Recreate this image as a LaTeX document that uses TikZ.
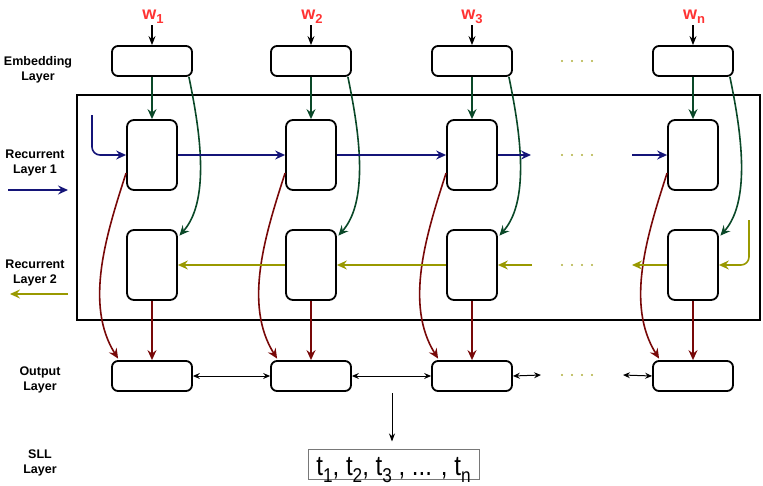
\documentclass[tikz,border=0pt]{standalone}
\usepackage{fontspec}
\setmainfont{Liberation Sans}
\newfontfamily\sllfont[FakeStretch=0.86]{Liberation Sans}
\usetikzlibrary{arrows.meta,calc}
\definecolor{navyc}{RGB}{20,20,120}
\definecolor{greenc}{RGB}{10,72,40}
\definecolor{redc}{RGB}{120,8,8}
\definecolor{olivec}{RGB}{153,153,0}
\definecolor{dotc}{RGB}{175,175,60}
\definecolor{wred}{RGB}{255,51,51}
\definecolor{grayc}{RGB}{120,120,120}
\newcommand\wsub[1]{\raisebox{-3.5pt}{\fontsize{13}{13}\selectfont #1}}
\newcommand\tsub[1]{\raisebox{-7pt}{\fontsize{20}{20}\selectfont #1}}
\begin{document}
\begin{tikzpicture}[x=1pt,y=-1pt,
  box/.style={draw, line width=1.8pt, rounded corners=6pt, minimum width=80pt, minimum height=30pt, inner sep=0pt},
  cell/.style={draw, line width=1.8pt, rounded corners=7pt, minimum width=50pt, minimum height=70pt, inner sep=0pt},
  lbl/.style={font=\bfseries\fontsize{12.5}{14.5}\selectfont, align=center},
  wlbl/.style={font=\bfseries\fontsize{18}{18}\selectfont, text=wred, anchor=base, inner sep=0pt},
  arr/.style={line width=1.6pt, -{Stealth[length=10pt,width=9pt,inset=3.5pt]}},
  garr/.style={arr, draw=greenc},
  rarr/.style={arr, draw=redc},
  barr/.style={arr, draw=navyc},
  oarr/.style={arr, draw=olivec},
  karr/.style={line width=1pt, -{Stealth[length=8pt,width=6pt,inset=2.5pt]}},
  warr/.style={line width=1.4pt, -{Stealth[length=9pt,width=7pt,inset=3pt]}},
  dbl/.style={line width=1pt, {Stealth[length=7pt,width=6pt,inset=2.5pt]}-{Stealth[length=7pt,width=6pt,inset=2.5pt]}},
]
\useasboundingbox (0,0) rectangle (763,485);

% frame
\node[draw, line width=1.8pt, minimum width=683pt, minimum height=225pt, inner sep=0pt] (frame) at (418.5,207.5) {};

% left labels
\node[lbl] (lemb) at (38,70) {Embedding\\Layer};
\node[lbl] (lrec1) at (35,163) {Recurrent\\Layer 1};
\node[lbl] (lrec2) at (35,273) {Recurrent\\Layer 2};
\node[lbl] (lout) at (40,380) {Output\\Layer};
\node[lbl] (lsll) at (40,463) {SLL\\Layer};
\coordinate (la1) at (8,190);
\coordinate (lb1) at (68,190);
\coordinate (la2) at (68,294);
\coordinate (lb2) at (10,294);
\draw[barr] (la1) -- (lb1);
\draw[oarr] (la2) -- (lb2);

% boxes
\foreach \n/\x in {1/152, 2/311, 3/472, n/693} {
  \node[box] (e\n) at (\x,61) {};
  \node[cell] (r\n) at (\x,155) {};
  \node[cell] (q\n) at (\x,265) {};
  \node[box] (o\n) at (\x,376) {};
  \coordinate (wa\n) at (\x,25);
  \draw[warr] (wa\n) -- (e\n.north);
  \draw[garr] (e\n.south) -- (r\n.north);
  \draw[rarr] (q\n.south) -- (o\n.north);
  \draw[garr] ($(e\n.south east)+(-4,0)$) .. controls +(9,44) and +(33,-37) .. ($(q\n.north east)+(1.5,6.5)$);
  \draw[rarr] ($(r\n.west)+(0,18)$) .. controls +(-20,62) and +(-34,-54) .. ($(o\n.north west)+(7,-1.5)$);
}

% word labels
\node[wlbl] (w1) at (153,19.5) {w\wsub{1}};
\node[wlbl] (w2) at (312,19.5) {w\wsub{2}};
\node[wlbl] (w3) at (472,19.5) {w\wsub{3}};
\node[wlbl] (wn) at (694,19.5) {w\wsub{n}};

% recurrent layer 1 (forward)
\coordinate (bin) at (92,115);
\coordinate (bend3) at (531,155);
\coordinate (bstartn) at (632,155);
\draw[barr, rounded corners=8pt] (bin) |- (r1.west);
\draw[barr] (r1.east) -- (r2.west);
\draw[barr] (r2.east) -- (r3.west);
\draw[barr] (r3.east) -- (bend3);
\draw[barr] (bstartn) -- (rn.west);

% recurrent layer 2 (backward)
\coordinate (oin) at (749,220);
\coordinate (ostart3) at (532,265);
\coordinate (oendn) at (632,265);
\draw[oarr, rounded corners=8pt] (oin) |- (qn.east);
\draw[oarr] (qn.west) -- (oendn);
\draw[oarr] (ostart3) -- (q3.east);
\draw[oarr] (q3.west) -- (q2.east);
\draw[oarr] (q2.west) -- (q1.east);

% output layer links
\coordinate (d3) at (541,375);
\coordinate (d4) at (623,375);
\draw[dbl] (o1.east) -- (o2.west);
\draw[dbl] (o2.east) -- (o3.west);
\draw[dbl] (o3.east) -- (d3);
\draw[dbl] (d4) -- (on.west);

% dots
\foreach \y in {61,155,265,375} {
  \foreach \x in {562,572,582,592} {
    \fill[dotc] (\x,\y) circle (1.1);
  }
}

% SLL
\node[draw=grayc, line width=1pt, minimum width=171pt, minimum height=30pt, inner sep=0pt, text height=22pt, text depth=0pt, font=\sllfont\fontsize{28}{28}\selectfont] (sll) at (393.5,464) {t\tsub{1}, t\tsub{2}, t\tsub{3} , ... , t\tsub{n}};
\coordinate (sa) at (392,393);
\draw[karr, shorten >=7pt] (sa) -- (sa |- sll.north);
\end{tikzpicture}
\end{document}
